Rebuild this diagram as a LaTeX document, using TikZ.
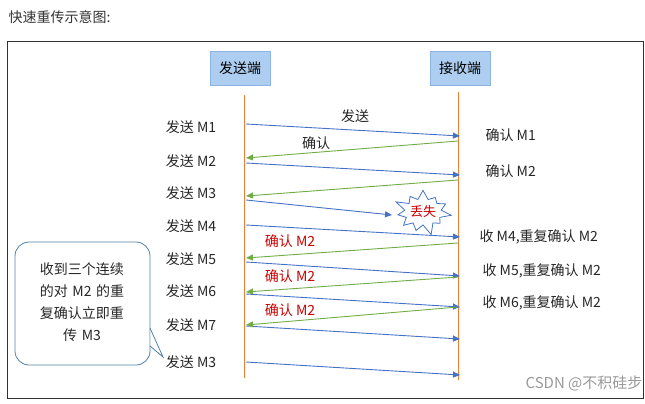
\documentclass[tikz,border=0pt]{standalone}
\usepackage{fontspec}
\setmainfont{Noto Sans CJK SC}
\usetikzlibrary{shapes.symbols,arrows.meta}
\definecolor{sblue}{RGB}{68,114,196}
\definecolor{sgreen}{RGB}{112,173,71}
\definecolor{sorange}{RGB}{237,125,49}
\definecolor{boxfill}{RGB}{173,206,240}
\definecolor{boxline}{RGB}{140,180,225}
\definecolor{callout}{RGB}{80,130,170}
\tikzset{
  hdr/.style={draw=boxline,fill=boxfill,minimum width=60pt,minimum height=34pt,font=\fontsize{14}{16}\selectfont},
  lbl/.style={font=\fontsize{14}{16}\selectfont,text=black!85},
  redlbl/.style={font=\fontsize{14}{16}\selectfont,text=red!80!black},
  life/.style={draw=sorange,line width=1pt},
  snd/.style={draw=sblue,line width=0.9pt,-{Triangle[length=7pt,width=6pt]}},
  ack/.style={draw=sgreen,line width=0.9pt,-{Triangle[length=7pt,width=6pt]}},
}
\begin{document}
\begin{tikzpicture}[x=1pt,y=-1pt]
\useasboundingbox (0,0) rectangle (645,404);
\node[anchor=west,font=\fontsize{14}{16}\selectfont,text=black!80] (title) at (5,17) {快速重传示意图:};
\draw[line width=1pt,black!80] (7,42) rectangle (643,398);
\node[hdr] (S) at (240,68) {发送端};
\node[hdr] (R) at (460,68) {接收端};
\coordinate (st) at (244,95); \coordinate (sb) at (244,378);
\coordinate (rt) at (458,92); \coordinate (rb) at (458,380);
\draw[life] (st) -- (sb); \draw[life] (rt) -- (rb);
\foreach \n/\t/\y in {l1/发送 M1/127,l2/发送 M2/161,l3/发送 M3/193,l4/发送 M4/226,l5/发送 M5/259,l6/发送 M6/291,l7/发送 M7/325,l8/发送 M3/362}
  \node[lbl] (\n) at (191,\y) {\t};
\foreach \i/\a/\b in {1/124/136,2/163/175,4/225/237,5/262/276,6/294/307,7/326/339,8/362/375}{
  \coordinate (sa\i) at (246,\a); \coordinate (sz\i) at (460,\b);
  \draw[snd] (sa\i) -- (sz\i);}
\coordinate (sa3) at (246,200); \coordinate (sz3) at (392,215);
\draw[snd] (sa3) -- (sz3);
\foreach \i/\a/\b in {1/141/158,2/180/196,3/243/258,4/277/292,5/307/325}{
  \coordinate (aa\i) at (458,\a); \coordinate (az\i) at (246,\b);
  \draw[ack] (aa\i) -- (az\i);}
\node[lbl] (fs) at (355,116) {发送};
\node[lbl] (qr) at (316,143) {确认};
\node[redlbl] (r1) at (290,241) {确认 M2};
\node[redlbl] (r2) at (290,276) {确认 M2};
\node[redlbl] (r3) at (290,310) {确认 M2};
\node[lbl,anchor=west] (c1) at (482,135) {确认 M1};
\node[lbl,anchor=west] (c2) at (482,171) {确认 M2};
\node[lbl,anchor=west] (c3) at (476,237) {收 M4,重复确认 M2};
\node[lbl,anchor=west] (c4) at (479,271) {收 M5,重复确认 M2};
\node[lbl,anchor=west] (c5) at (479,303) {收 M6,重复确认 M2};
\node[starburst,starburst points=11,starburst point height=12pt,draw=sblue,fill=white,line width=0.8pt,minimum width=60pt,minimum height=50pt,inner sep=0pt,font=\fontsize{13}{15}\selectfont,text=red!80!black] (boom) at (423,212) {丢失};
\draw[callout,line width=0.8pt,rounded corners=14pt] (15,242) -- (150,242) -- (150,365) -- (15,365) -- cycle;
\coordinate (tail) at (163,357);
\fill[white] (150.6,328) -- (tail) -- (150.6,346) -- cycle;
\draw[callout,line width=0.8pt] (150,328) -- (tail) -- (150,346);
\node[lbl,align=center,text width=125pt,font=\fontsize{14}{22}\selectfont] (note) at (82,302) {收到三个连续\\的对 M2 的重\\复确认立即重\\传 M3};
\node[font=\fontsize{15}{17}\selectfont,text=black!40] (wm) at (584,383) {CSDN @不积硅步};
\end{tikzpicture}
\end{document}
